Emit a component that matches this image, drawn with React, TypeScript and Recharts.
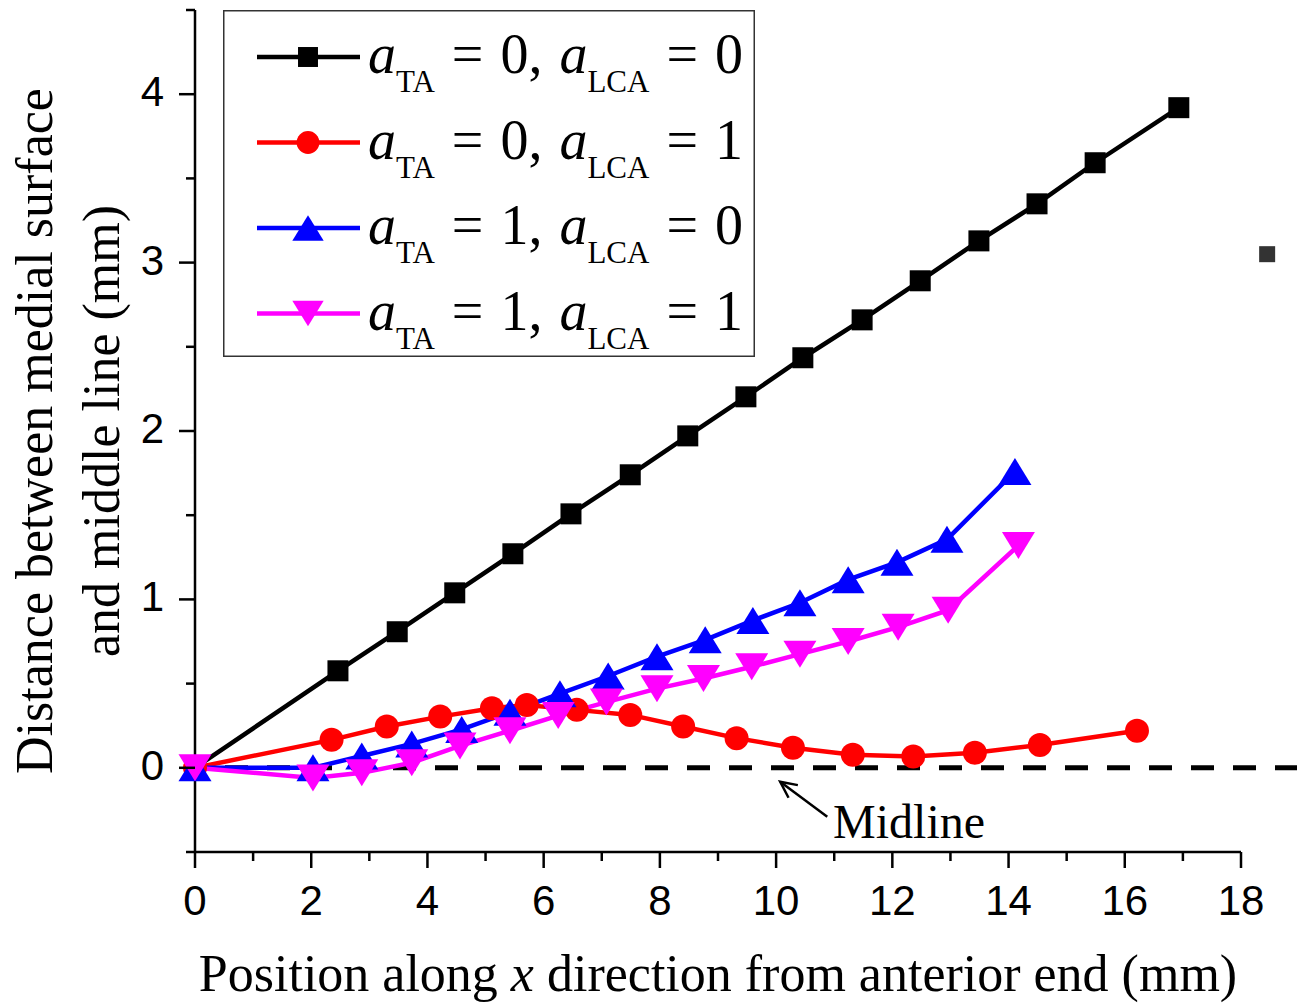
import { Legend, Line, LineChart, ReferenceDot, ReferenceLine, XAxis, YAxis } from "recharts";

// values (x in mm, distance in mm)
const xBlack = [0, 2.46, 3.48, 4.47, 5.47, 6.47, 7.49, 8.48, 9.48, 10.46, 11.48, 12.48, 13.49, 14.49, 15.49, 16.93];
const yBlack = [0, 0.576, 0.808, 1.039, 1.271, 1.508, 1.74, 1.971, 2.203, 2.435, 2.66, 2.892, 3.129, 3.349, 3.593, 3.92];

const xRed = [0, 2.35, 3.3, 4.22, 5.11, 5.71, 6.57, 7.49, 8.4, 9.32, 10.29, 11.32, 12.36, 13.42, 14.54, 16.21];
const yRed = [0, 0.166, 0.245, 0.304, 0.354, 0.373, 0.344, 0.314, 0.245, 0.176, 0.119, 0.077, 0.067, 0.089, 0.136, 0.22];

const xBlue = [0, 2.03, 2.87, 3.73, 4.59, 5.42, 6.28, 7.11, 7.95, 8.78, 9.6, 10.41, 11.24, 12.08, 12.94, 14.11];
const yBlue = [0, 0.0, 0.07, 0.142, 0.228, 0.33, 0.44, 0.545, 0.66, 0.76, 0.875, 0.98, 1.117, 1.22, 1.357, 1.76];

const xMagenta = [0, 2.03, 2.87, 3.73, 4.56, 5.42, 6.25, 7.08, 7.95, 8.75, 9.58, 10.41, 11.24, 12.1, 12.96, 14.17];
const yMagenta = [0, -0.06, -0.03, 0.03, 0.13, 0.22, 0.31, 0.39, 0.47, 0.53, 0.6, 0.675, 0.75, 0.835, 0.936, 1.32];

const legendTA = ["0", "0", "1", "1"];
const legendLCA = ["0", "1", "0", "1"];

const xTicks = [0, 1, 2, 3, 4, 5, 6, 7, 8, 9, 10, 11, 12, 13, 14, 15, 16, 17, 18];
const yTicks = [-0.5, 0, 0.5, 1, 1.5, 2, 2.5, 3, 3.5, 4, 4.5];

const toPoints = (xs: number[], ys: number[]) => xs.map((x, i) => ({ x, y: ys[i] }));

const SERIF = "'Liberation Serif', 'Times New Roman', serif";
const SANS = "'Liberation Sans', Arial, sans-serif";

type Shape = "square" | "circle" | "up" | "down";

function Marker({ cx, cy, shape, color, s = 1 }: { cx: number; cy: number; shape: Shape; color: string; s?: number }) {
  if (shape === "square") {
    const h = 10.5 * s;
    return <rect x={cx - h} y={cy - h} width={2 * h} height={2 * h} fill={color} />;
  }
  if (shape === "circle") return <circle cx={cx} cy={cy} r={12 * s} fill={color} />;
  const w = 16.5 * s;
  const h = 13.5 * s;
  const pts =
    shape === "up"
      ? `${cx},${cy - h} ${cx + w},${cy + h} ${cx - w},${cy + h}`
      : `${cx},${cy + h} ${cx + w},${cy - h} ${cx - w},${cy - h}`;
  return <polygon points={pts} fill={color} />;
}

const series = [
  { name: "black", data: toPoints(xBlack, yBlack), color: "#000000", shape: "square" as Shape },
  { name: "red", data: toPoints(xRed, yRed), color: "#ff0000", shape: "circle" as Shape },
  { name: "blue", data: toPoints(xBlue, yBlue), color: "#0000ff", shape: "up" as Shape },
  { name: "magenta", data: toPoints(xMagenta, yMagenta), color: "#ff00ff", shape: "down" as Shape },
];

function XTick(props: any) {
  const { x, y, payload } = props;
  const v = payload.value;
  const major = v % 2 === 0;
  return (
    <g>
      <line x1={x} y1={y} x2={x} y2={y + (major ? 16 : 9)} stroke="#000" strokeWidth={2.5} />
      {major && (
        <text x={x} y={y + 63} textAnchor="middle" fontFamily={SANS} fontSize={42} fill="#000">
          {v}
        </text>
      )}
    </g>
  );
}

function YTick(props: any) {
  const { x, y, payload } = props;
  const v = payload.value;
  const major = Number.isInteger(v);
  return (
    <g>
      <line x1={x - (major ? 16 : 9)} y1={y} x2={x} y2={y} stroke="#000" strokeWidth={2.5} />
      {major && (
        <text x={x - 31} y={y + 12} textAnchor="end" fontFamily={SANS} fontSize={42} fill="#000">
          {v}
        </text>
      )}
    </g>
  );
}

function LegendBox() {
  return (
    <svg width={532} height={347} style={{ display: "block" }}>
      <rect x={0.75} y={0.75} width={530.5} height={345.5} fill="#fff" stroke="#333" strokeWidth={1.5} />
      {series.map((s, i) => {
        const cy = 47 + i * 85.5;
        return (
          <g key={s.name}>
            <line x1={34} y1={cy} x2={137} y2={cy} stroke={s.color} strokeWidth={4.5} />
            <Marker cx={85} cy={cy} shape={s.shape} color={s.color} s={0.95} />
            <text
              x={145}
              y={cy + 16}
              fontFamily={SERIF}
              fontSize={56}
              fill="#000"
              wordSpacing={3}
              style={{ whiteSpace: "pre" }}
            >
              <tspan fontStyle="italic">a</tspan>
              <tspan fontSize={31} dy={19}>TA</tspan>
              <tspan dy={-19}>{` = ${legendTA[i]}, `}</tspan>
              <tspan fontStyle="italic">a</tspan>
              <tspan fontSize={31} dy={19}>LCA</tspan>
              <tspan dy={-19}>{` = ${legendLCA[i]}`}</tspan>
            </text>
          </g>
        );
      })}
    </svg>
  );
}

function Arrow(props: any) {
  const { x1, y1, x2, y2 } = props;
  // arrow head sits at the first point
  const ang = Math.atan2(y2 - y1, x2 - x1);
  const len = 18;
  const spread = 0.45;
  const a1x = x1 + len * Math.cos(ang + spread);
  const a1y = y1 + len * Math.sin(ang + spread);
  const a2x = x1 + len * Math.cos(ang - spread);
  const a2y = y1 + len * Math.sin(ang - spread);
  return (
    <g stroke="#000" strokeWidth={2.5} fill="none">
      <line x1={x1} y1={y1} x2={x2} y2={y2} />
      <polyline points={`${a1x},${a1y} ${x1},${y1} ${a2x},${a2y}`} />
    </g>
  );
}

export default function App() {
  return (
    <div style={{ position: "relative", width: 1297, height: 1004, background: "#fff" }}>
      <style>{"body{margin:0;background:#fff}"}</style>
      <LineChart width={1297} height={1004} margin={{ top: 10, right: 56, bottom: 0, left: 0 }}>
        <XAxis
          type="number"
          dataKey="x"
          domain={[0, 18]}
          ticks={xTicks}
          interval={0}
          tickSize={0}
          tickMargin={0}
          tick={<XTick />}
          height={152}
          stroke="#000"
          strokeWidth={2.5}
          label={{
            content: (p: any) => {
              const vb = p.viewBox;
              return (
                <text x={vb.x + vb.width / 2} y={991} textAnchor="middle" fontFamily={SERIF} fontSize={52} fill="#000">
                  Position along <tspan fontStyle="italic">x</tspan> direction from anterior end (mm)
                </text>
              );
            },
          }}
        />
        <YAxis
          type="number"
          domain={[-0.5, 4.5]}
          ticks={yTicks}
          interval={0}
          tickSize={0}
          tickMargin={0}
          tick={<YTick />}
          width={195}
          stroke="#000"
          strokeWidth={2.5}
          label={{
            content: (p: any) => {
              const vb = p.viewBox;
              const cy = vb.y + vb.height / 2;
              return (
                <g transform="rotate(-90)" fontFamily={SERIF} fontSize={52} fill="#000">
                  <text x={-cy} y={52} textAnchor="middle">Distance between medial surface</text>
                  <text x={-cy} y={119} textAnchor="middle">and middle line (mm)</text>
                </g>
              );
            },
          }}
        />
        <ReferenceLine
          segment={[{ x: 0, y: 0 }, { x: 19, y: 0 }]}
          ifOverflow="visible"
          shape={(p: any) => (
            <line
              x1={p.x1}
              y1={p.y1}
              x2={p.x2}
              y2={p.y2}
              stroke="#000"
              strokeWidth={5}
              strokeDasharray="23 19"
              strokeDashoffset={12}
            />
          )}
        />
        <ReferenceLine
          segment={[{ x: 10.07, y: -0.083 }, { x: 10.88, y: -0.29 }]}
          ifOverflow="visible"
          shape={(p: any) => <Arrow {...p} />}
        />
        <ReferenceDot
          x={10.98}
          y={-0.416}
          ifOverflow="visible"
          shape={(p: any) => (
            <text x={p.cx} y={p.cy} fontFamily={SERIF} fontSize={48} fill="#000">
              Midline
            </text>
          )}
        />
        <ReferenceDot
          x={18.45}
          y={3.05}
          ifOverflow="visible"
          shape={(p: any) => <rect x={p.cx - 8} y={p.cy - 8} width={16} height={16} fill="#333" />}
        />
        {series.map((s) => (
          <Line
            key={s.name}
            data={s.data}
            dataKey="y"
            type="linear"
            stroke={s.color}
            strokeWidth={4.5}
            isAnimationActive={false}
            dot={(p: any) => <Marker key={`${s.name}-${p.index}`} cx={p.cx} cy={p.cy} shape={s.shape} color={s.color} />}
            activeDot={false}
          />
        ))}
        <Legend
          layout="vertical"
          align="center"
          verticalAlign="middle"
          content={() => <LegendBox />}
          wrapperStyle={{ left: 223, top: 10, width: 532, height: 347 }}
        />
      </LineChart>
    </div>
  );
}
